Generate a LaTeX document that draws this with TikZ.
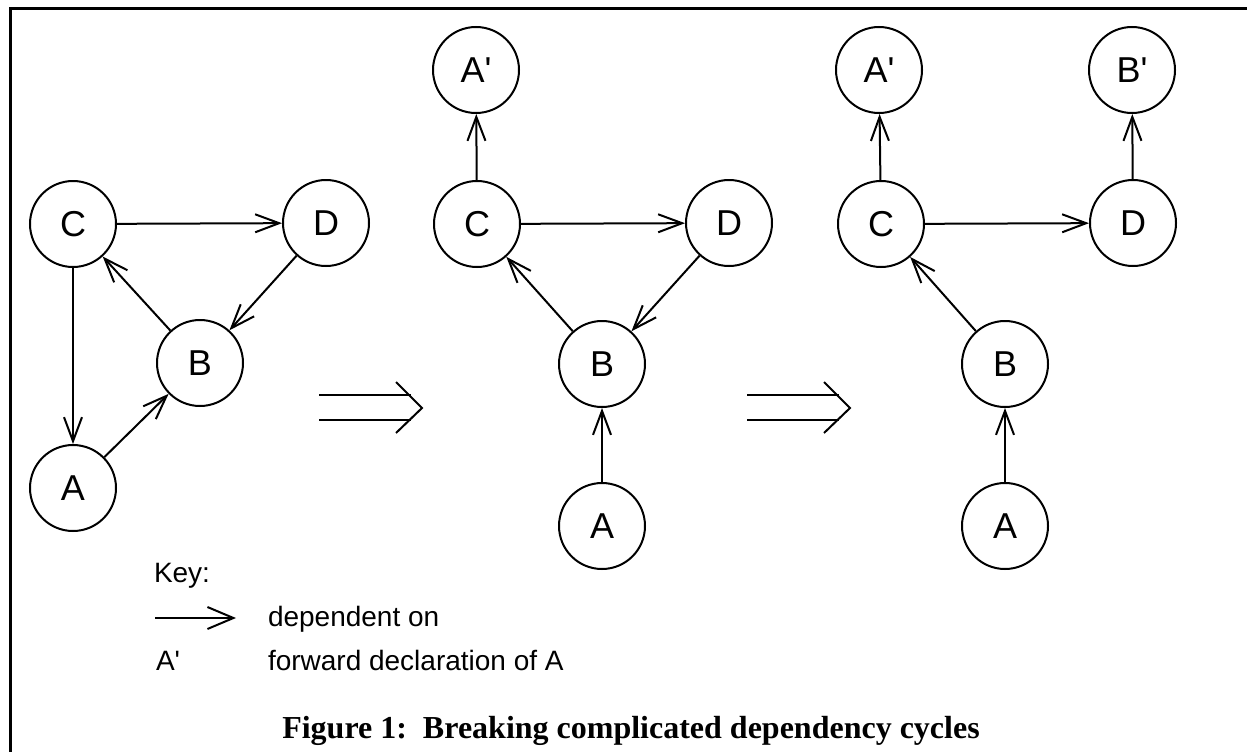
\documentclass[tikz,border=0pt]{standalone}
\usepackage{fontspec}
\setmainfont{Liberation Serif}
\setsansfont{Liberation Sans}
\usetikzlibrary{arrows.meta}

\begin{document}
\begin{tikzpicture}[x=1pt,y=-1pt,line width=2pt,
  vertex/.style={draw,circle,minimum size=86pt,inner sep=0pt,
    font=\sffamily\fontsize{36}{43}\selectfont},
  dep/.style={-{Straight Barb[length=24pt,width=18pt]}},
  keytext/.style={anchor=base west,inner sep=0pt,
    font=\sffamily\fontsize{28}{34}\selectfont}]
\useasboundingbox (0,0) rectangle (1247,752);

% cadre
\draw[line width=3pt] (1247,9) -- (10,9) -- (10,752);

% first graph
\node[vertex] (c1) at (73,224) {C};
\node[vertex] (d1) at (326,223) {D};
\node[vertex] (b1) at (200,363) {B};
\node[vertex] (a1) at (73,488) {A};

\draw[dep] (c1) -- (d1);
\draw[dep] (d1) -- (b1);
\draw[dep] (b1) -- (c1);
\draw[dep] (c1) -- (a1);
\draw[dep] (a1) -- (b1);

% second graph
\node[vertex] (ap2) at (476,70) {A\textquotesingle};
\node[vertex] (c2) at (477,224) {C};
\node[vertex] (d2) at (729,223) {D};
\node[vertex] (b2) at (602,364) {B};
\node[vertex] (a2) at (602,526) {A};

\draw[dep] (c2) -- (ap2);
\draw[dep] (c2) -- (d2);
\draw[dep] (d2) -- (b2);
\draw[dep] (b2) -- (c2);
\draw[dep] (a2) -- (b2);

% third graph
\node[vertex] (ap3) at (879,70) {A\textquotesingle};
\node[vertex] (bp3) at (1132,70) {B\textquotesingle};
\node[vertex] (c3) at (881,224) {C};
\node[vertex] (d3) at (1133,223) {D};
\node[vertex] (b3) at (1005,364) {B};
\node[vertex] (a3) at (1005,526) {A};

\draw[dep] (c3) -- (ap3);
\draw[dep] (d3) -- (bp3);
\draw[dep] (c3) -- (d3);
\draw[dep] (b3) -- (c3);
\draw[dep] (a3) -- (b3);

% double arrows
\foreach \s in {0,428}
{
  \begin{scope}[xshift=\s]
    \draw (319,395) -- (411,395);
    \draw (319,420) -- (411,420);
    \draw (396,382) -- (422,408) -- (396,433);
  \end{scope}
}

% key
\node[keytext] (key) at (153,582) {Key:};
\coordinate (k1) at (155,618);
\coordinate (k2) at (236,618);
\draw[-{Straight Barb[length=26pt,width=22pt]}] (k1) -- (k2);
\node[keytext] (dep) at (267,626) {dependent on};
\node[keytext] (ap) at (155,670) {A\textquotesingle};
\node[keytext] (fwd) at (267,670) {forward declaration of A};

% caption
\node[anchor=base,inner sep=0pt,font=\bfseries\fontsize{32}{38}\selectfont]
  (cap) at (631,738) {Figure 1:\ \ Breaking complicated dependency cycles};
\end{tikzpicture}
\end{document}
